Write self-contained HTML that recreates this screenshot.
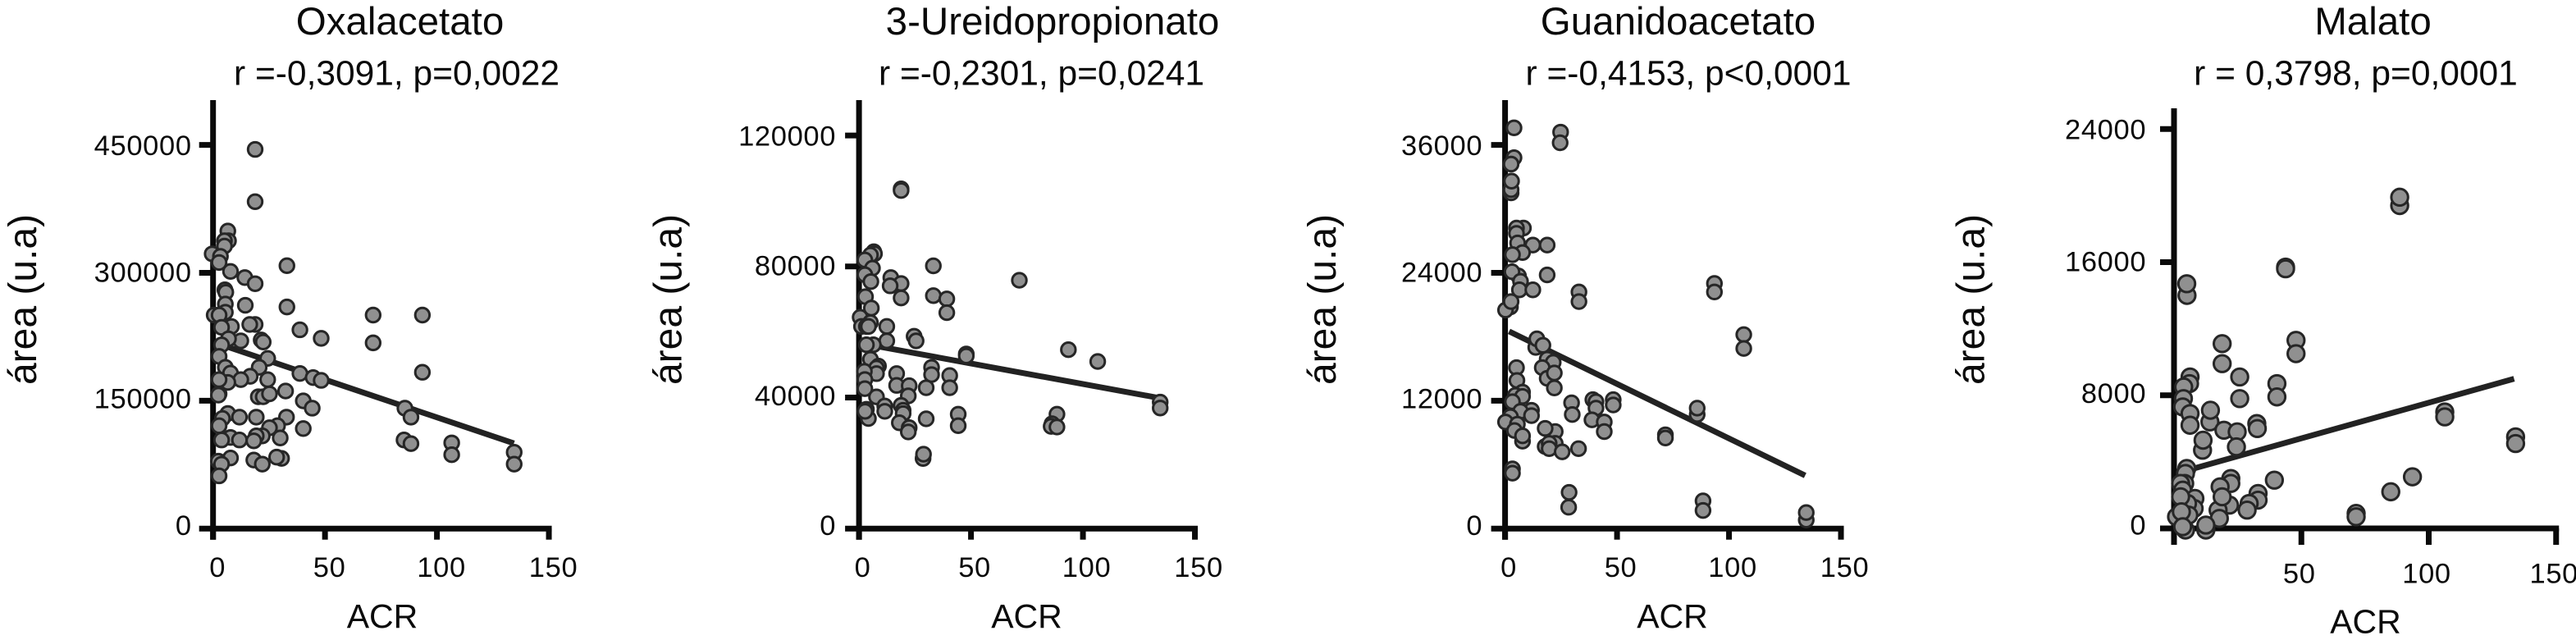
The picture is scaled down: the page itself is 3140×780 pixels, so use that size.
<!DOCTYPE html>
<html lang="pt">
<head>
<meta charset="utf-8">
<title>Correlações com ACR</title>
<style>
html,body{margin:0;padding:0;background:#fff;}
svg{display:block;font-family:"Liberation Sans",Arial,sans-serif;}
text{fill:#0a0a0a;}
</style>
</head>
<body>
<svg id="figure" width="3140" height="780" viewBox="0 0 3140 780" xmlns="http://www.w3.org/2000/svg">
<rect width="3140" height="780" fill="#fff"/>
<text x="487.5" y="42" font-size="47.5" text-anchor="middle">Oxalacetato</text>
<text x="483.5" y="103.5" font-size="42.5" text-anchor="middle">r =-0,3091, p=0,0022</text>
<text x="466" y="765" font-size="41" text-anchor="middle">ACR</text>
<text transform="translate(44 365) rotate(-90)" font-size="48" text-anchor="middle">área (u.a)</text>

<text x="1283" y="42" font-size="47.5" text-anchor="middle">3-Ureidopropionato</text>
<text x="1269.5" y="103.5" font-size="42.5" text-anchor="middle">r =-0,2301, p=0,0241</text>
<text x="1251.5" y="765" font-size="41" text-anchor="middle">ACR</text>
<text transform="translate(830.5 365) rotate(-90)" font-size="48" text-anchor="middle">área (u.a)</text>

<text x="2045.5" y="42" font-size="47.5" text-anchor="middle">Guanidoacetato</text>
<text x="2058" y="103.5" font-size="42.5" text-anchor="middle">r =-0,4153, p&lt;0,0001</text>
<text x="2038.5" y="765" font-size="41" text-anchor="middle">ACR</text>
<text transform="translate(1628 365) rotate(-90)" font-size="48" text-anchor="middle">área (u.a)</text>

<text x="2892.5" y="42" font-size="47.5" text-anchor="middle">Malato</text>
<text x="2871.5" y="103.5" font-size="42.5" text-anchor="middle">r = 0,3798, p=0,0001</text>
<text x="2883.5" y="771.5" font-size="41" text-anchor="middle">ACR</text>
<text transform="translate(2418.5 365) rotate(-90)" font-size="48" text-anchor="middle">área (u.a)</text>
</svg>
<script>
const oxalacetatoAcr=[18.8,18.8,6.6,6.9,5.1,5.1,-0.4,3.3,2.7,7.8,14.2,18.8,33,5.3,5.7,14.4,33,5.5,5.5,0.5,2.7,8.2,3.8,18.8,16.4,38.8,48.3,71.5,93.5,71.5,93.5,12.4,6.9,3.8,21.5,22.4,2.7,24.4,5.5,20.6,7.8,38.8,44.7,48.3,16.6,12.4,24.4,6.6,2.7,2.7,2.4,20.2,22.4,25.2,32.4,40.3,44.3,85.7,88.4,6.6,4.2,11.8,19.3,32.8,2.7,28.8,25.2,40.3,7.8,3.8,11.8,22,19.3,18.2,30,85.3,88.4,106.6,106.6,134.5,134.5,7.8,2.4,3.8,18.2,22,30.6,28.4,2.7];
const oxalacetatoArea=[444700,383400,349000,337500,337500,331300,322200,319300,312100,301600,294400,287200,308300,280000,277200,261900,259900,263300,253700,250400,250400,237000,236000,239400,239400,233100,223100,250400,250400,217800,183300,220200,222600,215400,221200,218800,202000,199600,189100,189100,182400,181900,177100,173800,178600,174700,174700,171400,174700,158000,156500,154600,154600,158000,161300,149800,141200,141200,130700,135000,129200,130700,130700,130700,120600,120600,118200,117300,106800,103900,103900,108700,108700,102900,106300,103900,99600,100500,86600,89500,75600,82800,79000,75600,80400,75600,82300,83800,61800];
const oxalacetatoTrendX=[5.5,134.4];
const oxalacetatoTrendY=[214000,100000];
const oxalacetatoYTicks=[0,150000,300000,450000];

const ureidopropionatoAcr=[18.8,18.8,6.6,6.9,5.1,2.6,6,2.6,5.3,14.2,18.8,13.9,18.8,33.2,33.2,2.9,39.2,39.2,71.6,5.5,0.5,5.1,1.1,3.3,4.2,12.4,12.4,24.6,25.5,6.4,3.3,93.5,47.9,47.9,106.6,32.4,5.1,8.7,7.8,7.8,2.4,16.8,32.4,40.5,2.6,16.8,22.4,30,40.5,2.6,22,7.8,11.5,18.8,19.7,11.5,3.3,4.2,19.7,44.3,88.4,30,18,2.7,44.3,86.2,85.8,88.4,22.4,22,28.6,28.8,134.5,134.5];
const ureidopropionatoArea=[103700,103200,84500,83900,83500,82000,79500,77500,75400,76600,74800,74100,70400,80200,71100,70800,70100,65900,75800,67300,64500,62900,61700,61700,61700,61700,57300,58700,57300,56100,56100,54600,53300,52700,51000,49200,51700,49600,49000,47300,48000,47300,47000,46700,45500,43700,43600,43000,43000,42700,40500,40200,37400,37600,36100,35800,36400,33600,35100,34900,34900,33500,32300,35800,31400,32000,31200,31000,30800,29500,21400,22700,38600,36800];
const ureidopropionatoTrendX=[9.7,134];
const ureidopropionatoTrendY=[55450,39870];
const ureidopropionatoYTicks=[0,40000,80000,120000];

const guanidoacetatoAcr=[4,24.8,24.6,4,2.7,2.7,2.7,2.9,8.2,5.1,5.1,5.6,12.4,18.8,7.8,3.3,6,18.8,3.1,6.9,6.4,12.4,93.5,93.5,33,33,2.4,0.2,2.7,106.6,106.6,13.7,14.2,16.9,18.8,21.5,5.1,16.6,18.8,22,5.3,22,7.8,4.6,7.8,3.3,39.2,40.6,48.3,48.3,29.7,40.6,85.8,11.8,6.9,85.8,30,11.8,2.4,0.2,5.5,38.8,44.3,4.2,22.4,17.9,44.3,71.6,71.6,7.8,7.8,17.9,22.4,19.7,19.7,25.5,32.8,3.3,3.3,28.6,28.4,88.4,88.4,134.5,134.5];
const guanidoacetatoArea=[37600,37200,36200,34800,34200,31500,31800,32600,28200,28200,27700,26800,26600,26600,25900,25700,23700,23800,24100,23200,22400,22400,23000,22200,22200,21300,20800,20500,21300,18200,16900,17000,17800,17200,15900,15600,15100,15100,14100,14600,13900,13200,12800,12500,12400,11900,12100,11900,12100,11600,11800,11300,10700,11100,11000,11300,10700,10600,10500,10000,9800,10200,10000,9200,9100,9400,9100,8800,8500,8200,8700,7700,8000,8000,7500,7200,7500,5600,5200,3400,2000,2600,1700,800,1500];
const guanidoacetatoTrendX=[1.8,134];
const guanidoacetatoTrendY=[18500,4980];
const guanidoacetatoYTicks=[0,12000,24000,36000];

const malatoAcr=[88.6,88.6,43.8,43.8,5.1,5,47.9,47.9,18.9,18.9,25.8,6.3,6.1,3.8,40.4,40.4,25.8,3.7,3.4,6.3,14.1,14.3,106.3,106.3,32.5,32.7,6.3,19.6,24.8,11.2,11.4,134.1,134.1,24.5,5,4.5,4.2,2.6,39.4,93.6,22.3,22.3,18.1,33,85.1,3.4,8.2,7.9,5.3,33,29.5,21.8,28.7,17.3,18.9,2.6,1,17.8,71.5,71.5,5.8,2.9,12.5,4.5,12.5,3.4];
const malatoArea=[19400,19900,15700,15600,14000,14700,11300,10500,11100,9900,9100,9100,8700,8500,8700,7900,7800,7800,7300,6900,6400,7100,7000,6700,6300,6000,6200,5900,5800,4700,5300,5500,5100,4900,3600,3300,2700,2700,2900,3100,3000,2700,2500,2100,2200,2300,1800,1200,1500,1700,1500,1400,1100,1100,1900,1900,700,600,900,700,800,1000,-100,-100,200,100];
const malatoTrendX=[6.6,133.5];
const malatoTrendY=[3550,8990];
const malatoYTicks=[0,8000,16000,24000];

const acrTicks=[0,50,100,150];
const malatoAcrTicks=[50,100,150];

const NS='http://www.w3.org/2000/svg';
const figure=document.getElementById('figure');

function svgEl(tag,attrs,parent){
  const el=document.createElementNS(NS,tag);
  for(const k in attrs){el.setAttribute(k,attrs[k]);}
  parent.appendChild(el);
  return el;
}

function drawChart(c){
  const g=svgEl('g',{},figure);
  
  
  const xScale=v=>c.x0+v*c.xUnit;
  const yScale=v=>c.y0-v*(c.y0-c.yTopPx)/c.yTopVal;
  const ax='#0a0a0a';
  const sw=7;

  const yAxis=svgEl('line',{x1:c.x0,x2:c.x0,y1:c.axisTop,y2:c.y0+c.xTickLen,stroke:ax,'stroke-width':sw},g);
  
  
  const xAxis=svgEl('line',{x1:c.x0-3,x2:xScale(150)+3.5,y1:c.y0,y2:c.y0,stroke:ax,'stroke-width':sw},g);
  
  

  c.yTicks.forEach(v=>{
    const y=yScale(v);
    const t=svgEl('line',{x1:c.x0-17,x2:c.x0,y1:y,y2:y,stroke:ax,'stroke-width':sw},g);
    
    
    const lab=svgEl('text',{x:c.x0-c.yLabelGap,y:y+7.7+4.7*v/c.yTopVal,'font-size':34.5,'letter-spacing':0.65,'text-anchor':'end'},g);
    lab.textContent=String(v);
    
    
  });
  c.xTicks.forEach(v=>{
    const x=xScale(v);
    const t=svgEl('line',{x1:x,x2:x,y1:c.y0,y2:c.y0+c.xTickLen,stroke:ax,'stroke-width':sw},g);
    
    
    const lab=svgEl('text',{x:x+c.xLabelDx,y:c.xLabelY,'font-size':34.5,'letter-spacing':0.65,'text-anchor':'middle'},g);
    lab.textContent=String(v);
    
    
  });

  const trend=svgEl('line',{x1:xScale(c.trendX[0]),y1:yScale(c.trendY[0]),x2:xScale(c.trendX[1]),y2:yScale(c.trendY[1]),stroke:'#222','stroke-width':7},g);
  
  

  c.acr.forEach((v,i)=>{
    const p=svgEl('circle',{cx:xScale(v),cy:yScale(c.area[i]),r:c.markerR,fill:'#909090',stroke:'#262626','stroke-width':3},g);
    
    
  });
}

drawChart({name:'oxalacetato',acr:oxalacetatoAcr,area:oxalacetatoArea,trendX:oxalacetatoTrendX,trendY:oxalacetatoTrendY,yTicks:oxalacetatoYTicks,xTicks:acrTicks,
  x0:259.7,xUnit:2.729,y0:644.2,yTopPx:176.6,yTopVal:450000,axisTop:122,xTickLen:13.5,yLabelGap:26,xLabelDx:5.5,xLabelY:703,markerR:8.7});
drawChart({name:'ureidopropionato',acr:ureidopropionatoAcr,area:ureidopropionatoArea,trendX:ureidopropionatoTrendX,trendY:ureidopropionatoTrendY,yTicks:ureidopropionatoYTicks,xTicks:acrTicks,
  x0:1047.1,xUnit:2.7295,y0:644.2,yTopPx:165.1,yTopVal:120000,axisTop:122,xTickLen:13.5,yLabelGap:28,xLabelDx:4.5,xLabelY:703,markerR:8.7});
drawChart({name:'guanidoacetato',acr:guanidoacetatoAcr,area:guanidoacetatoArea,trendX:guanidoacetatoTrendX,trendY:guanidoacetatoTrendY,yTicks:guanidoacetatoYTicks,xTicks:acrTicks,
  x0:1834.6,xUnit:2.7295,y0:644.2,yTopPx:176.6,yTopVal:36000,axisTop:122,xTickLen:13.5,yLabelGap:27.4,xLabelDx:4.5,xLabelY:703,markerR:8.7});
drawChart({name:'malato',acr:malatoAcr,area:malatoArea,trendX:malatoTrendX,trendY:malatoTrendY,yTicks:malatoYTicks,xTicks:malatoAcrTicks,
  x0:2650,xUnit:3.105,y0:644,yTopPx:157.2,yTopVal:24000,axisTop:132,xTickLen:20,yLabelGap:33.8,xLabelDx:-2.5,xLabelY:710.7,markerR:10.2});
</script>
</body>
</html>
